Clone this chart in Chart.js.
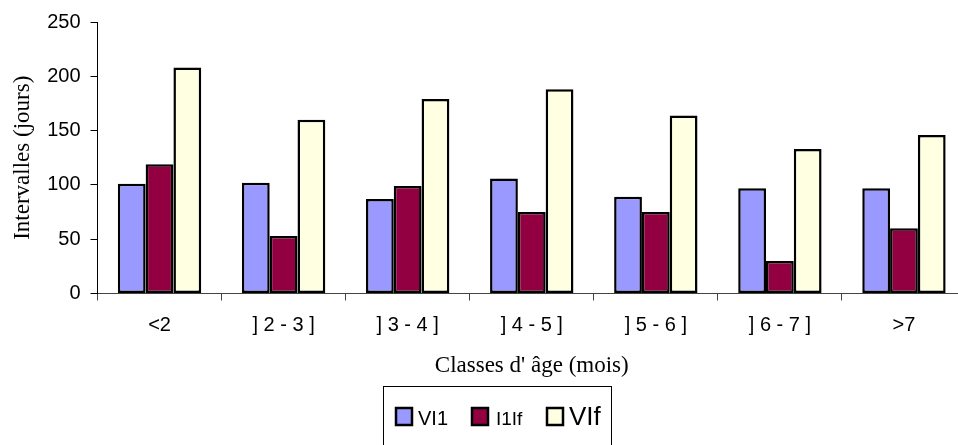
<!DOCTYPE html>
<html>
<head>
<meta charset="utf-8">
<script src="https://cdn.jsdelivr.net/npm/chart.js@4/dist/chart.umd.min.js"></script>
<style>
  html, body { margin: 0; padding: 0; background: #fff; overflow: hidden; }
  #wrap { position: relative; width: 972px; height: 445px; }
</style>
</head>
<body>
<div id="wrap"><canvas id="c"></canvas></div>
<script>
// Age classes (months)
const categories = ['<2', '] 2 - 3 ]', '] 3 - 4 ]', '] 4 - 5 ]', '] 5 - 6 ]', '] 6 - 7 ]', '>7'];
// Interval lengths in days per age class
const seriesVI1 = [101, 102, 87, 106, 89, 97, 97];
const seriesI1If = [119, 53, 99, 75, 75, 30, 60];
const seriesVIf = [208, 160, 179, 188, 164, 133, 146];
const seriesNames = ['VI1', 'I1If', 'VIf'];
const yTicks = [0, 50, 100, 150, 200, 250];

const colors = ['#9999FF', '#930042', '#FFFFE2'];
const legendFonts = ['20px "Liberation Sans", Arial', '19px "Liberation Sans", Arial', '26px "Liberation Sans", Arial'];

// Boxed legend drawn under the axis title
const boxLegend = {
  id: 'boxLegend',
  afterDraw(chart) {
    const ctx = chart.ctx;
    ctx.save();
    ctx.strokeStyle = '#000';
    ctx.lineWidth = 1;
    ctx.strokeRect(383.5, 386.5, 228, 70);
    const xs = [[396, 418], [472, 496], [547, 569]];
    chart.data.datasets.forEach((ds, i) => {
      ctx.fillStyle = ds.backgroundColor;
      ctx.fillRect(xs[i][0], 408, 16, 17);
      ctx.lineWidth = 2.5;
      ctx.strokeStyle = '#000';
      ctx.strokeRect(xs[i][0], 408, 16, 17);
      ctx.fillStyle = '#000';
      ctx.font = legendFonts[i];
      ctx.textBaseline = 'alphabetic';
      ctx.textAlign = 'left';
      ctx.fillText(ds.label, xs[i][1], 425);
    });
    ctx.restore();
  }
};

new Chart(document.getElementById('c'), {
  type: 'bar',
  data: {
    labels: categories,
    datasets: [seriesVI1, seriesI1If, seriesVIf].map((d, i) => ({
      label: seriesNames[i],
      data: d,
      backgroundColor: colors[i],
      borderColor: '#000',
      borderWidth: 2.5,
      borderSkipped: false,
      categoryPercentage: 0.672,
      barPercentage: 1.0
    }))
  },
  options: {
    responsive: true,
    maintainAspectRatio: false,
    animation: false,
    layout: { padding: { top: 19, right: 6, left: 0, bottom: 0 } },
    plugins: { legend: { display: false }, tooltip: { enabled: false } },
    scales: {
      x: {
        offset: true,
        grid: { display: true, offset: true, drawOnChartArea: false, drawTicks: true, tickLength: 7, color: '#444' },
        border: { display: true, color: '#444', width: 1 },
        ticks: { color: '#000', font: { family: '"Liberation Sans", Arial', size: 20 }, padding: 13, maxRotation: 0, autoSkip: false },
        title: { display: true, text: "Classes d' âge (mois)", color: '#000',
                 font: { family: '"Liberation Serif", "Times New Roman"', size: 23 }, padding: { top: 0, bottom: 65 } },
        afterFit(scale) { scale.height = 151.5; }
      },
      y: {
        min: 0, max: 250,
        afterBuildTicks(scale) { scale.ticks = yTicks.map(v => ({ value: v })); },
        grid: { display: true, drawOnChartArea: false, drawTicks: true, tickLength: 7, color: '#000' },
        border: { display: true, color: '#000', width: 1 },
        ticks: { color: '#000', font: { family: '"Liberation Sans", Arial', size: 20 }, padding: 10 },
        title: { display: true, text: 'Intervalles (jours)', color: '#000',
                 font: { family: '"Liberation Serif", "Times New Roman"', size: 23 }, padding: { top: 9, bottom: 0 } },
        afterFit(scale) { scale.width = 97.5; }
      }
    }
  },
  plugins: [boxLegend]
});
</script>
</body>
</html>
